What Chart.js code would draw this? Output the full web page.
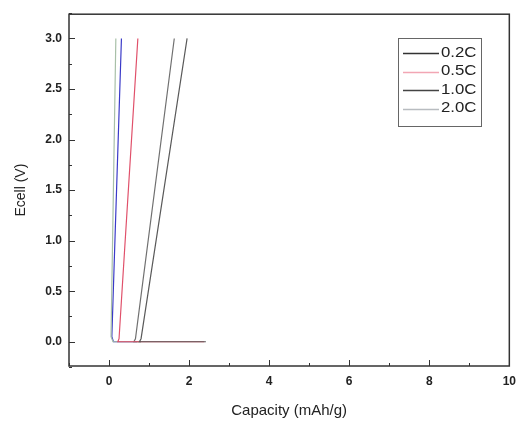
<!DOCTYPE html>
<html>
<head>
<meta charset="utf-8">
<script src="https://cdn.jsdelivr.net/npm/chart.js@4/dist/chart.umd.min.js"></script>
<style>
html,body{margin:0;padding:0;background:#fff;}
#wrap{width:524px;height:424px;position:relative;}
</style>
</head>
<body>
<div id="wrap"><canvas id="c" width="524" height="424"></canvas></div>
<script>
// Series labels
const seriesLabels = ['0.2C', '0.5C', '1.0C', '2.0C', ''];
// Capacity (mAh/g) and cell voltage (V) for each curve
const cap02 = [1.95, 0.80, 0.76, 2.42];
const volt02 = [3.0, 0.03, 0.0, 0.0];
const cap05 = [0.72, 0.25, 0.22, 2.38];
const volt05 = [3.0, 0.03, 0.0, 0.0];
const cap10 = [1.63, 0.66, 0.62, 0.80];
const volt10 = [3.0, 0.03, 0.0, 0.0];
const cap20 = [0.17, 0.05, 0.10, 0.80];
const volt20 = [3.0, 0.05, 0.0, 0.0];
const capX = [0.31, 0.07, 0.11, 0.70];
const voltX = [3.0, 0.05, 0.0, 0.0];
// Axis ticks
const xTicks = [0, 2, 4, 6, 8, 10];
const yTicks = [0.0, 0.5, 1.0, 1.5, 2.0, 2.5, 3.0];

const lineColors = ['#5a5a5a', '#e0506a', '#707070', '#a8c0a8', '#3a3ac8'];
const legendColors = ['#333333', '#f2a6b4', '#444444', '#b8bcc0'];

function pts(xs, ys) { return xs.map((x, i) => ({x: x, y: ys[i]})); }
const allData = [pts(cap02, volt02), pts(cap05, volt05), pts(cap10, volt10), pts(cap20, volt20), pts(capX, voltX)];

const datasets = allData.map((d, i) => ({
  label: seriesLabels[i],
  data: d,
  showLine: true,
  borderColor: lineColors[i],
  borderWidth: 1.2,
  pointRadius: 0,
  tension: 0,
  fill: false
}));

const FONT = '"Liberation Sans", Arial, sans-serif';

const framePlugin = {
  id: 'frame',
  afterDraw(chart) {
    const ctx = chart.ctx;
    const a = chart.chartArea;
    const xs = chart.scales.x, ys = chart.scales.y;
    ctx.save();
    ctx.strokeStyle = '#333';
    ctx.lineWidth = 1.5;
    ctx.strokeRect(a.left, a.top, a.right - a.left, a.bottom - a.top);
    ctx.lineWidth = 1;
    for (let v = -1; v <= 10; v += 1) {
      const px = Math.round(xs.getPixelForValue(v)) + 0.5;
      const major = v % 2 === 0;
      ctx.beginPath();
      ctx.moveTo(px, a.bottom);
      ctx.lineTo(px, a.bottom - (major ? 6 : 3));
      ctx.stroke();
    }
    for (let v = -0.25; v <= 3.25; v += 0.25) {
      const py = Math.round(ys.getPixelForValue(v)) + 0.5;
      const major = Math.abs(v * 2 - Math.round(v * 2)) < 1e-6;
      ctx.beginPath();
      ctx.moveTo(a.left, py);
      ctx.lineTo(a.left + (major ? 6 : 3), py);
      ctx.stroke();
    }
    // legend box
    const lx = 398, ly = 38, lw = 83, lh = 88;
    ctx.strokeStyle = '#666';
    ctx.lineWidth = 1;
    ctx.strokeRect(lx + 0.5, ly + 0.5, lw, lh);
    ctx.textBaseline = 'middle';
    ctx.fillStyle = '#222';
    for (let i = 0; i < 4; i++) {
      const yy = 53 + i * 18.5;
      ctx.strokeStyle = legendColors[i];
      ctx.lineWidth = 1.3;
      ctx.beginPath();
      ctx.moveTo(403, Math.round(yy) + 0.5);
      ctx.lineTo(439, Math.round(yy) + 0.5);
      ctx.stroke();
      ctx.save();
      ctx.translate(441, yy);
      ctx.scale(1.2, 1);
      ctx.font = '14px ' + FONT;
      ctx.fillText(seriesLabels[i], 0, 0);
      ctx.restore();
    }
    ctx.restore();
  }
};

new Chart(document.getElementById('c'), {
  type: 'scatter',
  data: { datasets: datasets },
  options: {
    responsive: false,
    animation: false,
    layout: { padding: { left: 0, right: 11, top: 7, bottom: 0 } },
    plugins: { legend: { display: false }, tooltip: { enabled: false } },
    scales: {
      x: {
        type: 'linear',
        min: -1, max: 10,
        afterBuildTicks(scale) { scale.ticks = xTicks.map(v => ({value: v})); },
        afterFit(scale) { scale.height = 58; },
        grid: { display: false, drawTicks: false },
        border: { display: false },
        ticks: { padding: 8, color: '#222', font: { family: FONT, size: 12, weight: 'bold' } },
        title: { display: true, text: 'Capacity (mAh/g)', color: '#222', padding: { top: 8 }, font: { family: FONT, size: 15 } }
      },
      y: {
        type: 'linear',
        min: -0.24, max: 3.24,
        afterBuildTicks(scale) { scale.ticks = yTicks.map(v => ({value: v})); },
        afterFit(scale) { scale.width = 69; },
        grid: { display: false, drawTicks: false },
        border: { display: false },
        ticks: { padding: 7, color: '#222', callback: v => v.toFixed(1), font: { family: FONT, size: 12, weight: 'bold' } },
        title: { display: true, text: 'Ecell (V)', color: '#222', padding: { top: 13, bottom: 0 }, font: { family: FONT, size: 14 } }
      }
    }
  },
  plugins: [framePlugin]
});
</script>
</body>
</html>
